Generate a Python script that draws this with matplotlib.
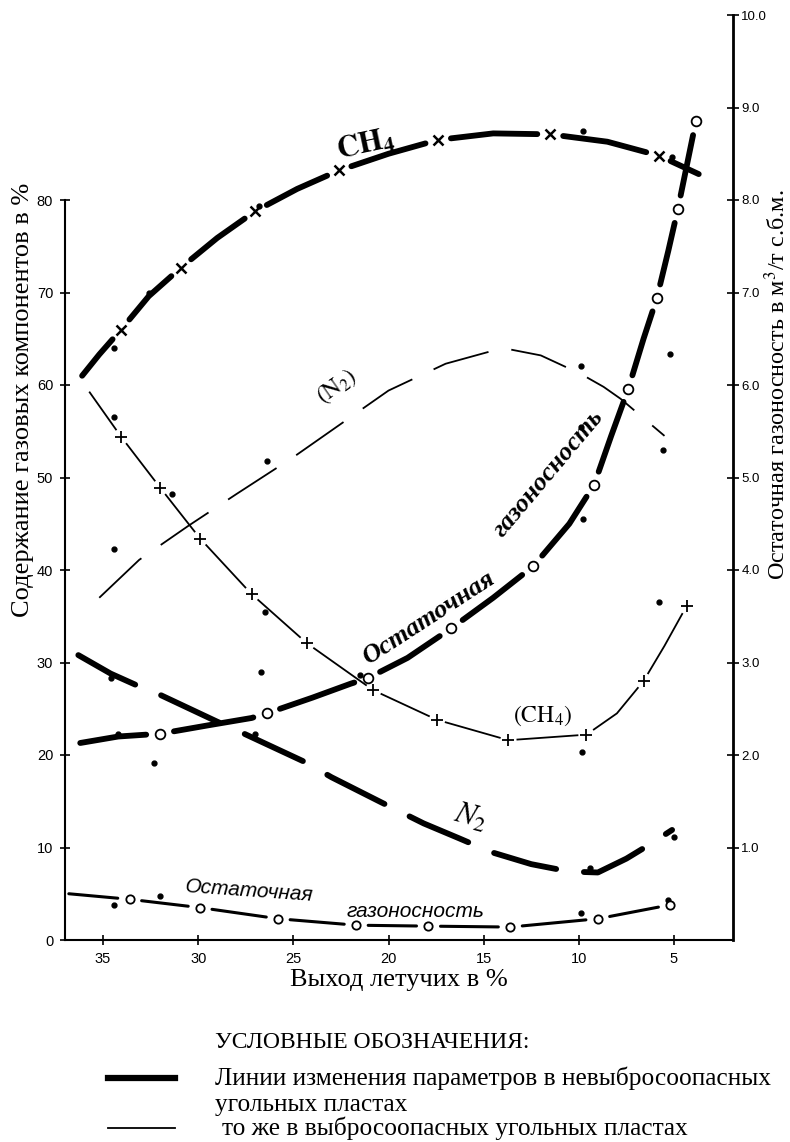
import matplotlib
matplotlib.use("Agg")
import matplotlib.pyplot as plt
from matplotlib.lines import Line2D
import numpy as np

plt.rcParams['font.family'] = ['Liberation Serif', 'DejaVu Serif']
plt.rcParams['mathtext.fontset'] = 'stix'

# ---- data (x = выход летучих %, y = % or m3/t) ----
ch4_heavy_x = [36.1, 35.2, 34.05, 32.6, 30.9, 29.0, 27.0, 24.8, 22.6, 20.0, 17.4, 14.5, 11.5, 8.5, 5.8, 3.7]
ch4_heavy_y = [61.0, 63.3, 66.0, 69.6, 72.7, 75.9, 78.8, 81.2, 83.2, 85.0, 86.5, 87.2, 87.1, 86.3, 84.8, 82.8]
ch4_heavy_mx = [34.05, 30.9, 27.0, 22.6, 17.4, 11.5, 5.8]
ch4_heavy_my = [66.0, 72.7, 78.8, 83.2, 86.5, 87.1, 84.8]

ch4_thin_x = [35.7, 34.05, 32.0, 29.9, 27.2, 24.3, 20.8, 17.45, 13.7, 9.6, 8.0, 6.6, 5.5, 4.34]
ch4_thin_y = [59.2, 54.4, 48.9, 43.4, 37.4, 32.1, 27.0, 23.8, 21.6, 22.2, 24.5, 28.0, 31.8, 36.1]
ch4_thin_mx = [34.05, 32.0, 29.9, 27.2, 24.3, 20.8, 17.45, 13.7, 9.6, 6.6, 4.34]
ch4_thin_my = [54.4, 48.9, 43.4, 37.4, 32.1, 27.0, 23.8, 21.6, 22.2, 28.0, 36.1]

n2_thin_x = [35.2, 33.1, 30.5, 28.0, 25.0, 22.5, 20.0, 17.0, 14.0, 12.0, 9.9, 8.7, 7.8, 5.5]
n2_thin_y = [37.0, 41.1, 44.8, 48.2, 52.2, 55.8, 59.4, 62.3, 64.0, 63.2, 61.2, 59.8, 58.5, 54.5]

n2_heavy_x = [36.3, 34.6, 33.3, 32.1, 29.0, 27.9, 24.35, 23.0, 20.4, 18.15, 16.3, 14.6, 12.5, 10.5, 9.0, 7.5, 6.3, 5.1]
n2_heavy_y = [30.8, 28.8, 27.6, 26.6, 23.6, 22.6, 19.2, 17.6, 14.9, 12.6, 11.0, 9.5, 8.2, 7.4, 7.3, 8.8, 10.3, 11.9]

# остаточная газоносность, м3/т (правая ось)
res_heavy_x = [36.2, 34.2, 32.0, 29.5, 27.2, 26.4, 24.0, 22.0, 21.1, 19.0, 16.7, 14.5, 12.4, 10.5, 9.2, 8.3, 7.4, 6.6, 5.9, 5.3, 4.8, 4.3, 3.85]
res_heavy_y = [2.13, 2.20, 2.23, 2.32, 2.40, 2.45, 2.62, 2.77, 2.83, 3.05, 3.37, 3.70, 4.04, 4.50, 4.92, 5.45, 5.96, 6.50, 6.94, 7.45, 7.90, 8.40, 8.85]
res_heavy_cx = [32.0, 26.4, 21.1, 16.7, 12.4, 9.2, 7.4, 5.9, 4.8, 3.85]
res_heavy_cy = [2.23, 2.45, 2.83, 3.37, 4.04, 4.92, 5.96, 6.94, 7.90, 8.85]

res_thin_x = [36.8, 33.6, 29.9, 25.8, 21.7, 17.9, 13.6, 9.0, 5.2]
res_thin_y = [0.50, 0.44, 0.35, 0.23, 0.16, 0.15, 0.14, 0.23, 0.38]
res_thin_cx = res_thin_x[1:]
res_thin_cy = res_thin_y[1:]

dots_x = [34.4, 32.6, 26.8, 9.8, 5.1, 34.4, 34.4, 31.4, 26.4, 26.5, 26.7, 21.5, 9.9, 9.9, 9.8, 9.85, 5.2, 5.6, 5.8,
          34.6, 34.2, 32.3, 27.0, 9.4, 5.0, 34.4, 32.0, 9.9, 5.3]
dots_y = [64.0, 69.9, 79.3, 87.5, 84.6, 56.5, 42.3, 48.2, 51.8, 35.5, 29.0, 28.6, 62.1, 55.5, 45.5, 20.3, 63.4, 53.0, 36.5,
          28.3, 22.3, 19.1, 22.3, 7.8, 11.1, 3.8, 4.8, 2.9, 4.3]

xticks = [35, 30, 25, 20, 15, 10, 5]
yticks_left = [0, 10, 20, 30, 40, 50, 60, 70, 80]
yticks_right = [1.0, 2.0, 3.0, 4.0, 5.0, 6.0, 7.0, 8.0, 9.0, 10.0]

fig = plt.figure(figsize=(7.9, 11.42), dpi=100)
ax = fig.add_axes([65/790, 1-940/1142, 668/790, 925/1142])
ax2 = ax.twinx()

ax.set_xlim(37.0, 1.9)
ax.set_ylim(0, 100)
ax2.set_ylim(0, 10)


def broken_line(axis, xs, ys, mxs, gap, **kw):
    # line through the points, interrupted around every marker (like the drawing)
    pts = axis.transData.transform(np.column_stack([xs, ys]))
    breaks = {xs.index(m) for m in mxs}
    inv = axis.transData.inverted()
    piece = [pts[0]]
    for i in range(1, len(pts)):
        if i in breaks:
            d = pts[i] - piece[-1]
            piece.append(pts[i] - d / np.hypot(*d) * gap)
            p = inv.transform(np.array(piece))
            axis.plot(p[:, 0], p[:, 1], **kw)
            if i + 1 < len(pts):
                d = pts[i + 1] - pts[i]
                piece = [pts[i] + d / np.hypot(*d) * gap]
            else:
                piece = None
        else:
            piece.append(pts[i])
    if piece is not None and len(piece) > 1:
        p = inv.transform(np.array(piece))
        axis.plot(p[:, 0], p[:, 1], **kw)


heavy = dict(color='black', lw=4.2, solid_capstyle='round', dash_capstyle='round')
thin = dict(color='black', lw=1.3)

# CH4, невыбросоопасные
broken_line(ax, ch4_heavy_x, ch4_heavy_y, ch4_heavy_mx, 13, **heavy)
ax.plot(ch4_heavy_mx, ch4_heavy_my, 'x', ms=7, mew=1.8, color='black')
# CH4, выбросоопасные
broken_line(ax, ch4_thin_x, ch4_thin_y, ch4_thin_mx, 9, **thin)
ax.plot(ch4_thin_mx, ch4_thin_my, '+', ms=9, mew=1.3, color='black')
# N2
ax.plot(n2_thin_x, n2_thin_y, ls=(0, (32, 13)), **thin)
ax.plot(n2_heavy_x, n2_heavy_y, ls=(0, (11, 4.8)), **heavy)
ax.plot(dots_x, dots_y, 'o', ms=3.5, color='black', zorder=5)

# остаточная газоносность
broken_line(ax2, res_heavy_x, res_heavy_y, res_heavy_cx, 14, **heavy)
ax2.plot(res_heavy_cx, res_heavy_cy, 'o', ms=7, mfc='white', mec='black', mew=1.3)
broken_line(ax2, res_thin_x, res_thin_y, res_thin_cx, 12, color='black', lw=2.2, solid_capstyle='round')
ax2.plot(res_thin_cx, res_thin_cy, 'o', ms=6, mfc='white', mec='black', mew=1.3)

# labels on curves
ax.text(21.2, 86.0, r'$\mathbf{CH_4}$', fontsize=22, rotation=12, ha='center', va='center', zorder=6)
ax.text(22.7, 59.8, r'$\mathrm{(N_2)}$', fontsize=17, rotation=35, ha='center', va='center')
ax.text(11.9, 24.2, r'$\mathrm{(CH_4)}$', fontsize=17, ha='center', va='center')
ax.text(15.7, 13.2, r'$\boldsymbol{N_2}$', fontsize=22, rotation=-15, ha='center', va='center')
ax.text(17.9, 34.8, 'Остаточная', fontsize=19, fontweight='bold', style='italic', rotation=33, ha='center', va='center')
ax.text(11.6, 50.5, 'газоносность', fontsize=19, fontweight='bold', style='italic', rotation=50, ha='center', va='center')
ax.text(27.3, 5.3, 'Остаточная', fontsize=15, style='italic', family='Liberation Sans', rotation=-4, ha='center', va='center')
ax.text(18.6, 3.1, 'газоносность', fontsize=15, style='italic', family='Liberation Sans', ha='center', va='center')

# axes styling
ax.spines['top'].set_visible(False)
ax2.spines['top'].set_visible(False)
ax.spines['left'].set_bounds(0, 80)
for s in ['left', 'bottom']:
    ax.spines[s].set_linewidth(1.5)
ax2.spines['right'].set_linewidth(2.0)
ax2.spines['left'].set_visible(False)
ax2.spines['bottom'].set_visible(False)

ax.set_xticks(xticks)
ax.set_xticklabels([str(t) for t in xticks], family='Liberation Sans', fontsize=10.5)
ax.set_yticks(yticks_left)
ax.set_yticklabels([str(t) for t in yticks_left], family='Liberation Sans', fontsize=10.5)
ax2.set_yticks(yticks_right)
ax2.set_yticklabels(['%.1f' % t for t in yticks_right], family='Liberation Sans', fontsize=9.5)
ax.tick_params(axis='both', direction='inout', length=7, width=1.2, pad=5)
ax2.tick_params(axis='y', direction='inout', length=9, width=1.2, pad=1.5)

ax.set_xlabel('Выход летучих в %', fontsize=19, labelpad=2)
ax.set_ylabel('Содержание газовых компонентов в %', fontsize=19)
ax.yaxis.set_label_coords(-0.047, 0.584)
ax2.set_ylabel('Остаточная газоносность в м$^3$/т с.б.м.', fontsize=17.5)
ax2.yaxis.set_label_coords(1.047, 0.6)

# legend
fig.text(215/790, 1-1043/1142, 'УСЛОВНЫЕ ОБОЗНАЧЕНИЯ:', fontsize=17, va='center')
fig.add_artist(Line2D([108/790, 175/790], [1-1078/1142]*2, color='black', lw=4.5))
fig.text(215/790, 1-1078/1142, 'Линии изменения параметров в невыбросоопасных', fontsize=18.3, va='center')
fig.text(215/790, 1-1105/1142, 'угольных пластах', fontsize=18.3, va='center')
fig.add_artist(Line2D([108/790, 175/790], [1-1128/1142]*2, color='black', lw=1.3))
fig.text(222/790, 1-1128/1142, 'то же в выбросоопасных угольных пластах', fontsize=18.3, va='center')

fig.savefig('out.png', dpi=100)
